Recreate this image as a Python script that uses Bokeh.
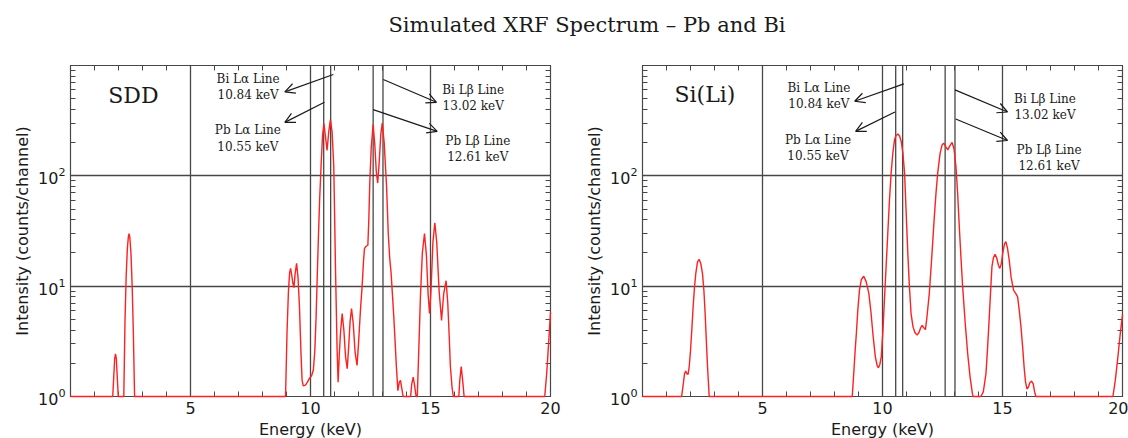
from bokeh.plotting import figure
from bokeh.models import (LinearAxis, LogAxis, FixedTicker, Span, Arrow, OpenHead,
                          Label, Div, CustomJSTickFormatter, Range1d, ColumnDataSource)
from bokeh.layouts import column, row
from bokeh.embed import file_html
from bokeh.resources import INLINE
from bokeh.core.properties import value

TITLE = "Simulated XRF Spectrum \u2013 Pb and Bi"
X_LABEL = "Energy (keV)"
Y_LABEL = "Intensity (counts/channel)"
DETECTORS = ["SDD", "Si(Li)"]

# ---- SDD spectrum ----
sdd_energy = [0.0, 1.76, 1.80, 1.84, 1.875, 1.91, 1.95, 1.99,
              2.22, 2.27, 2.32, 2.37, 2.41, 2.44, 2.47, 2.52, 2.57, 2.62, 2.67,
              8.96, 9.02, 9.08, 9.13, 9.17, 9.22, 9.26, 9.31, 9.36, 9.42, 9.48, 9.54, 9.60, 9.65,
              9.70, 9.79, 9.87, 9.95, 10.05, 10.12, 10.18, 10.23, 10.28, 10.33, 10.38, 10.44,
              10.50, 10.56, 10.62, 10.69, 10.76, 10.83, 10.90, 10.97, 11.00, 11.04, 11.11, 11.15,
              11.20, 11.25, 11.32, 11.39, 11.46, 11.53, 11.59, 11.65, 11.71, 11.78, 11.86, 11.94,
              12.00, 12.08, 12.15, 12.21, 12.25, 12.32, 12.39, 12.43, 12.47, 12.53, 12.61, 12.68,
              12.74, 12.80, 12.86, 12.93, 12.99, 13.07, 13.17, 13.24, 13.30, 13.36, 13.42, 13.47,
              13.53, 13.58, 13.64, 13.70, 13.75, 13.80, 13.86,
              14.17, 14.22, 14.28, 14.34, 14.40, 14.45, 14.52, 14.58, 14.66, 14.75, 14.83, 14.90,
              14.96, 15.02, 15.10, 15.18, 15.26, 15.36, 15.46, 15.55, 15.65, 15.72, 15.78, 15.83,
              15.90, 15.95, 16.18, 16.22, 16.28, 16.34, 16.40,
              19.76, 19.84, 19.92, 20.0]
sdd_counts = [1.0, 1.0, 1.48, 2.19, 2.44, 2.19, 1.48, 1.0,
              1.0, 4.7, 12.5, 22, 28, 30, 28, 19.8, 10, 3.7, 1.0,
              1.0, 3.7, 8.9, 13.2, 14.5, 12.5, 10.8, 9.7, 13, 16.1, 12, 6.5, 2.6, 1.4,
              1.25, 1.27, 1.35, 1.45, 1.55, 1.75, 2.6, 5, 12, 28, 60, 122,
              230, 297, 230, 170, 250, 323, 250, 122, 50, 15, 2.6, 1.35,
              2.4, 3.8, 5.65, 4.0, 2.3, 1.79, 2.8, 4.8, 6.27, 4.6, 2.5, 1.91,
              3.0, 6.0, 9.9, 17, 22, 23, 23.5, 40, 86, 180, 291, 190,
              110, 86, 130, 240, 301, 200, 80, 30, 18, 13, 8, 5.3,
              3.0, 1.85, 1.13, 1.35, 1.4, 1.2, 1.0,
              1.0, 1.3, 1.5, 1.25, 1.0, 1.0, 3.0, 8.0, 20, 30, 19, 8.5,
              5.65, 9, 25, 37.6, 25, 9, 4.9, 8.5, 11.2, 7, 3.5, 1.85,
              1.2, 1.0, 1.0, 1.4, 1.87, 1.4, 1.0,
              1.0, 1.6, 3.0, 5.8]

# ---- Si(Li) spectrum ----
sili_energy = [0.0, 1.63, 1.70, 1.75, 1.80, 1.86, 1.90, 1.95, 2.00, 2.06, 2.11, 2.17, 2.22,
               2.29, 2.36, 2.43, 2.50, 2.56, 2.61, 2.66, 2.71, 2.78,
               8.74, 8.80, 8.86, 8.91, 8.97, 9.04, 9.12, 9.22, 9.32, 9.43, 9.52, 9.60, 9.70,
               9.78, 9.83, 9.89, 9.95, 10.02, 10.08, 10.15, 10.22, 10.29, 10.36, 10.43, 10.50,
               10.57, 10.64, 10.71, 10.78, 10.85, 10.92, 10.98, 11.05, 11.12, 11.19, 11.27,
               11.35, 11.44, 11.52, 11.59, 11.65, 11.72, 11.79, 11.85, 11.95, 12.05, 12.16,
               12.23, 12.30, 12.40, 12.48, 12.55, 12.63, 12.72, 12.81, 12.90, 12.98, 13.06,
               13.13, 13.20, 13.27, 13.34, 13.45, 13.55, 13.65, 13.75, 13.78,
               14.10, 14.20, 14.31, 14.38, 14.45, 14.51, 14.56, 14.62, 14.69, 14.76, 14.83,
               14.89, 14.95, 15.02, 15.08, 15.14, 15.21, 15.28, 15.36, 15.46, 15.55, 15.63,
               15.70, 15.77, 15.84, 15.90, 15.96, 16.02, 16.08, 16.14, 16.21, 16.28, 16.34,
               16.39, 19.60, 19.70, 19.80, 19.90, 20.0]
sili_counts = [1.0, 1.0, 1.3, 1.6, 1.7, 1.6, 1.585, 1.9, 2.6, 4.2, 6.5, 10, 13,
               16.5, 17.5, 16, 13, 9, 5.65, 3.2, 1.85, 1.0,
               1.0, 1.6, 2.6, 3.7, 6, 9.2, 11.5, 12.3, 11, 8.6, 5.8, 3.7, 2.3,
               1.9, 1.82, 1.95, 2.3, 4, 7.5, 15, 30, 60, 106, 160, 212,
               233, 239, 230, 205, 160, 106, 50, 21, 10, 5.65, 4.3,
               3.8, 3.6, 3.8, 4.2, 4.42, 4.2, 4.04, 5.2, 8.6, 18, 42.7,
               70, 106, 160, 190, 198, 185, 172, 188, 201, 175, 122,
               70, 34.6, 18, 9.9, 4.5, 2.44, 1.5, 1.05, 1.0,
               1.0, 1.1, 1.6, 2.8, 5.3, 9.5, 15, 18, 19.4, 18, 15.5,
               14.5, 16, 20.5, 24, 25.3, 22, 17.2, 12, 9.2, 8.6, 8.0,
               6, 4.27, 2.8, 1.85, 1.35, 1.17, 1.22, 1.33, 1.38, 1.3, 1.1,
               1.0, 1.0, 1.4, 2.2, 3.6, 5.5]

# ---- characteristic lines ----
line_names = ["Bi L\u03b1 Line", "Pb L\u03b1 Line", "Bi L\u03b2 Line", "Pb L\u03b2 Line"]
line_energies = [10.84, 10.55, 13.02, 12.61]
line_texts = ["10.84 keV", "10.55 keV", "13.02 keV", "12.61 keV"]

x_major = [5, 10, 15, 20]
x_minor = list(range(0, 21))
y_major = [1, 10, 100]
y_minor = [m * 10 ** k for k in range(0, 3) for m in range(1, 10)] + [1000]

# ---- annotation layout (data units) ----
# (text x, log10 y line1, log10 y line2, arrow x0, arrow y0, arrow x1, arrow y1)
ann_layout = {
    "SDD": [
        (7.40, 2.879, 2.730, 10.95, 828, 8.93, 577),
        (7.39, 2.412, 2.264, 10.58, 464, 8.93, 305),
        (16.78, 2.782, 2.630, 13.03, 746, 15.25, 464),
        (16.97, 2.319, 2.170, 12.61, 398, 15.28, 253),
    ],
    "Si(Li)": [
        (7.35, 2.797, 2.652, 10.89, 682, 8.84, 474),
        (7.31, 2.327, 2.176, 10.52, 379, 8.88, 253),
        (16.77, 2.700, 2.555, 13.02, 601, 15.21, 379),
        (16.94, 2.236, 2.085, 13.05, 327, 15.21, 209),
    ],
}
name_pos = {"SDD": (2.62, 2.727), "Si(Li)": (2.60, 2.736)}

SANS = "DejaVu Sans"
SERIF = "DejaVu Serif"
GRID = "#474747"
INK = "#1a1a1a"


def blank_axis(axis):
    axis.formatter = CustomJSTickFormatter(code="return ''")
    axis.major_label_standoff = 0
    axis.major_tick_out = 0
    axis.minor_tick_out = 0
    axis.major_tick_in = 6
    axis.minor_tick_in = 5
    axis.axis_line_color = GRID
    axis.major_tick_line_color = GRID
    axis.minor_tick_line_color = GRID


def make_panel(name, energy, counts, left_border, right_border):
    p = figure(frame_width=480, frame_height=331,
               x_range=Range1d(0, 20), y_range=Range1d(1, 1000), y_axis_type="log",
               output_backend="svg", toolbar_location=None,
               min_border_left=left_border, min_border_right=right_border,
               min_border_top=15, min_border_bottom=54)
    p.background_fill_color = "white"
    p.border_fill_color = "white"
    p.outline_line_color = GRID
    p.outline_line_width = 1.2

    xa = p.xaxis[0]
    xa.ticker = FixedTicker(ticks=x_major, minor_ticks=x_minor)
    ya = p.yaxis[0]
    ya.ticker = FixedTicker(ticks=y_major, minor_ticks=y_minor)
    for ax in (xa, ya):
        ax.major_tick_out = 0
        ax.minor_tick_out = 0
        ax.major_tick_in = 6
        ax.minor_tick_in = 5
        ax.axis_line_color = GRID
        ax.major_tick_line_color = GRID
        ax.minor_tick_line_color = GRID
        ax.major_label_text_font = SANS
        ax.major_label_text_font_size = "16px"
        ax.major_label_text_color = INK
        ax.axis_label_text_font = SANS
        ax.axis_label_text_font_size = "16px"
        ax.axis_label_text_font_style = "normal"
        ax.axis_label_text_color = INK
        ax.major_label_standoff = 5
        ax.axis_label_standoff = 3
    xa.axis_label = X_LABEL
    ya.axis_label = Y_LABEL

    top = LinearAxis(ticker=FixedTicker(ticks=x_major, minor_ticks=x_minor))
    blank_axis(top)
    p.add_layout(top, "above")
    right = LogAxis(ticker=FixedTicker(ticks=y_major, minor_ticks=y_minor))
    blank_axis(right)
    p.add_layout(right, "right")

    p.xgrid.grid_line_color = GRID
    p.xgrid.grid_line_width = 1.3
    p.ygrid.grid_line_color = GRID
    p.ygrid.grid_line_width = 1.3

    for e in line_energies:
        p.add_layout(Span(location=e, dimension="height", line_color=GRID, line_width=1.3))

    p.line(energy, counts, line_color="#ff2020", line_width=1.4, level="overlay")

    lay = ann_layout[name]
    tx, ty, tt = [], [], []
    for (nm, txt, a) in zip(line_names, line_texts, lay):
        tx += [a[0], a[0]]
        ty += [10 ** a[1], 10 ** a[2]]
        tt += [nm, txt]
        p.add_layout(Arrow(end=OpenHead(size=10, line_width=1.2, line_color=INK),
                           x_start=a[3], y_start=a[4], x_end=a[5], y_end=a[6],
                           line_width=1.2, line_color=INK))
    src = ColumnDataSource(dict(x=tx, y=ty, t=tt))
    p.text(x="x", y="y", text="t", source=src, text_font=value(SERIF),
           text_font_size="12px", text_align="center", text_baseline="middle",
           text_color=INK)

    nx, ny = name_pos[name]
    p.add_layout(Label(x=nx, y=10 ** ny, text=name, text_font=SERIF,
                       text_font_size="22px", text_align="center",
                       text_baseline="middle", text_color=INK))
    return p


p1 = make_panel("SDD", sdd_energy, sdd_counts, 70, 20)
p2 = make_panel("Si(Li)", sili_energy, sili_counts, 72, 6)

title = Div(text=TITLE, width=1082, height=50, margin=(0, 0, 0, 46),
            styles={"text-align": "center", "font-family": SERIF, "font-size": "21px",
                    "color": INK, "padding-top": "10px", "width": "1082px"})

layout = column(title, row(p1, p2, spacing=0), spacing=0)

open("out.html", "w").write(file_html(layout, INLINE))
